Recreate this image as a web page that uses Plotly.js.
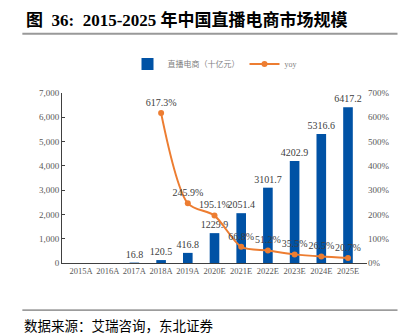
<!DOCTYPE html>
<html>
<head>
<meta charset="utf-8">
<script src="https://cdn.plot.ly/plotly-3.0.1.min.js"></script>
<style>
html,body{margin:0;padding:0;background:#fff;}
#chart{width:409px;height:336px;}
</style>
</head>
<body>
<div id="chart"></div>
<script>
var categories = ["2015A","2016A","2017A","2018A","2019A","2020E","2021E","2022E","2023E","2024E","2025E"];
var marketSize = [null, null, 16.8, 120.5, 416.8, 1229.9, 2051.4, 3101.7, 4202.9, 5316.6, 6417.2];
var yoy = [null, null, null, 617.3, 245.9, 195.1, 66.8, 51.2, 35.5, 26.5, 20.7];
var leftTicks = [0,1000,2000,3000,4000,5000,6000,7000];
var leftTickLabels = ["0","1,000","2,000","3,000","4,000","5,000","6,000","7,000"];
var rightTicks = [0,100,200,300,400,500,600,700];
var rightTickLabels = ["0%","100%","200%","300%","400%","500%","600%","700%"];

var serif = "'Liberation Serif','Times New Roman','Noto Serif CJK SC','Noto Sans CJK SC',serif";
var cjk = "'Liberation Serif','Noto Sans CJK SC',sans-serif";

var barTrace = {
  type: "bar",
  name: "直播电商（十亿元）",
  x: categories,
  y: marketSize,
  marker: {color: "#0052A5"},
  width: 0.36,
  text: marketSize.map(function(v){return v === null ? "" : v.toFixed(1);}),
  textposition: "outside",
  constraintext: "none",
  cliponaxis: false,
  textfont: {family: serif, size: 10, color: "#404040"},
  hoverinfo: "none"
};

var lineTrace = {
  type: "scatter",
  mode: "lines+markers+text",
  name: "yoy",
  x: categories,
  y: yoy,
  yaxis: "y2",
  line: {color: "#ED7D31", width: 2, shape: "spline", smoothing: 0.8},
  marker: {color: "#ED7D31", size: 6},
  text: yoy.map(function(v){return v === null ? "" : v.toFixed(1) + "%";}),
  textposition: "top center",
  cliponaxis: false,
  textfont: {family: serif, size: 10, color: "#404040"},
  connectgaps: false,
  hoverinfo: "none"
};

var layout = {
  width: 409,
  height: 336,
  margin: {l: 62, r: 42, t: 93, b: 73},
  paper_bgcolor: "#ffffff",
  plot_bgcolor: "#ffffff",
  showlegend: true,
  legend: {
    orientation: "h",
    x: 0.5, xanchor: "center",
    y: 1.17, yanchor: "middle",
    font: {family: cjk, size: 8, color: "#7f7f7f"},
    itemwidth: 30,
    tracegroupgap: 0
  },
  bargap: 0.6,
  xaxis: {
    type: "category",
    showline: true,
    linecolor: "#404040",
    linewidth: 1,
    ticks: "",
    tickangle: 0,
    tickfont: {family: serif, size: 8.5, color: "#595959"},
    showgrid: false,
    zeroline: false,
    fixedrange: true
  },
  yaxis: {
    range: [0, 7000],
    tickvals: leftTicks,
    ticktext: leftTickLabels,
    showline: true,
    linecolor: "#404040",
    linewidth: 1,
    ticks: "inside",
    ticklen: 3,
    tickcolor: "#404040",
    tickfont: {family: serif, size: 9, color: "#595959"},
    showgrid: false,
    zeroline: false,
    fixedrange: true
  },
  yaxis2: {
    overlaying: "y",
    side: "right",
    range: [0, 700],
    tickvals: rightTicks,
    ticktext: rightTickLabels,
    showline: false,
    ticks: "",
    tickfont: {family: serif, size: 9, color: "#595959"},
    showgrid: false,
    zeroline: false,
    fixedrange: true
  },
  shapes: [
    {type: "line", xref: "paper", yref: "paper", x0: -0.13, x1: 1.1, y0: 1.349, y1: 1.349,
     line: {color: "#999999", width: 2}},
    {type: "line", xref: "paper", yref: "paper", x0: -0.13, x1: 1.1, y0: -0.277, y1: -0.277,
     line: {color: "#555555", width: 1}}
  ],
  annotations: [
    {xref: "paper", yref: "paper", x: -0.125, y: 1.43, xanchor: "left", yanchor: "middle",
     text: "<b>图  36:  2015-2025 年中国直播电商市场规模</b>", showarrow: false,
     font: {family: "'Liberation Serif','Noto Sans CJK SC',serif", size: 17, color: "#000000"}},
    {xref: "paper", yref: "paper", x: -0.13, y: -0.365, xanchor: "left", yanchor: "middle",
     text: "数据来源：艾瑞咨询，东北证券", showarrow: false,
     font: {family: "'Noto Sans CJK SC',sans-serif", size: 13.5, color: "#000000"}}
  ]
};

Plotly.newPlot("chart", [barTrace, lineTrace], layout, {displayModeBar: false, staticPlot: true});
</script>
</body>
</html>
